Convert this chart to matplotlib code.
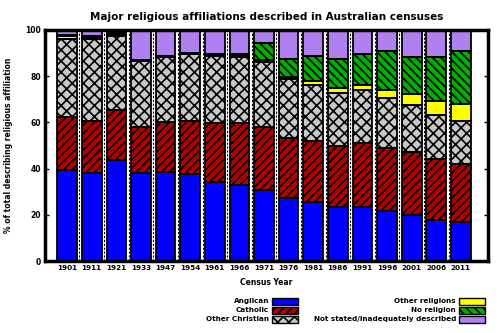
import matplotlib
matplotlib.use("Agg")
import matplotlib.pyplot as plt
from matplotlib.patches import Rectangle
import numpy as np

years = ["1901", "1911", "1921", "1933", "1947", "1954", "1961", "1966", "1971",
         "1976", "1981", "1986", "1991", "1996", "2001", "2006", "2011"]

anglican = [39.3, 37.9, 43.7, 38.1, 38.6, 37.6, 34.2, 33.1, 30.6,
            27.4, 25.5, 23.6, 23.3, 21.5, 20.1, 17.9, 16.7]
catholic = [23.0, 22.5, 21.8, 20.1, 21.4, 22.8, 25.5, 26.6, 27.3,
            25.7, 26.6, 26.2, 27.7, 27.3, 27.2, 26.1, 25.5]
other_christian = [33.8, 35.7, 31.8, 28.3, 28.3, 29.1, 29.1, 28.8, 28.1,
                   25.5, 24.2, 23.0, 22.9, 21.8, 20.4, 19.3, 18.6]
other_religions = [1.5, 0.9, 0.7, 0.3, 0.3, 0.3, 0.3, 0.5, 0.8,
                   1.2, 1.6, 2.2, 2.5, 3.6, 4.8, 5.8, 7.2]
no_religion = [0.4, 0.5, 0.5, 0.4, 0.3, 0.4, 0.4, 0.8, 7.4,
               7.7, 10.9, 12.6, 13.1, 16.8, 16.0, 19.0, 22.7]
not_stated = [2.0, 2.5, 1.5, 12.8, 11.1, 9.8, 10.5, 10.2, 5.8,
              12.5, 11.2, 12.4, 10.5, 9.0, 11.5, 11.9, 9.3]

series = [
    ("Anglican", anglican, "#0000ff", None),
    ("Catholic", catholic, "#b00000", "////"),
    ("Other Christian", other_christian, "#c8c8c8", "xxx"),
    ("Other religions", other_religions, "#ffff00", None),
    ("No religion", no_religion, "#00b000", "\\\\\\\\"),
    ("Not stated/inadequately described", not_stated, "#b080f0", None),
]

plt.rcParams["hatch.linewidth"] = 1.2
plt.rcParams["font.family"] = "DejaVu Sans"
plt.rcParams["font.weight"] = "bold"

fig = plt.figure(figsize=(5, 3.33), dpi=100)
ax = fig.add_axes([0.09, 0.216, 0.886, 0.694])

x = np.arange(len(years))
width = 0.8
bottom = np.zeros(len(years))
for name, vals, color, hatch in series:
    vals = np.array(vals)
    # filled layer carries the hatch, outline drawn on top
    ax.bar(x, vals, width, bottom=bottom, color=color, hatch=hatch,
           edgecolor="black", linewidth=0, zorder=2)
    ax.bar(x, vals, width, bottom=bottom, fill=False, edgecolor="black",
           linewidth=1.3, zorder=3)
    bottom += vals

# dashed separators between bars
for b in x[:-1] + 0.5:
    ax.axvline(b, color="black", linestyle=(0, (2, 1.5)), linewidth=0.8, zorder=1)

ax.set_xlim(-0.9, 17.1)
ax.set_ylim(0, 100)
ax.set_xticks(x)
ax.set_xticklabels(years, fontsize=5.2, fontweight="bold")
ax.set_yticks(np.arange(0, 101, 20))
ax.set_yticklabels([str(v) for v in range(0, 101, 20)], fontsize=5.5, fontweight="bold")
ax.tick_params(axis="x", length=0, pad=3)
ax.tick_params(axis="y", direction="in", length=3, width=1, right=True, pad=3)
for s in ax.spines.values():
    s.set_linewidth(2.5)

ax.set_xlabel("Census Year", fontsize=5.5, fontweight="bold", labelpad=5)
ax.set_ylabel("% of total describing religious affiliation", fontsize=5.5,
              fontweight="bold", labelpad=9)
ax.set_title("Major religious affiliations described in Australian censuses",
             fontsize=7.5, fontweight="bold", pad=7)

# legend, two right-aligned columns of labels with swatches
W, H = 500.0, 333.0
rows_y = [301, 310, 319]
cols = [(269, 272), (456, 459)]
for i, (name, vals, color, hatch) in enumerate(series):
    col, row = divmod(i, 3)
    tx, sx = cols[col]
    yy = rows_y[row]
    fig.text(tx / W, 1 - yy / H, name, ha="right", va="center",
             fontsize=5.2, fontweight="bold")
    fig.patches.append(Rectangle((sx / W, 1 - (yy + 3.5) / H), 26 / W, 7 / H,
                                 transform=fig.transFigure, facecolor=color,
                                 hatch=hatch, edgecolor="black", linewidth=1.0))

fig.savefig("out.png", dpi=100)
